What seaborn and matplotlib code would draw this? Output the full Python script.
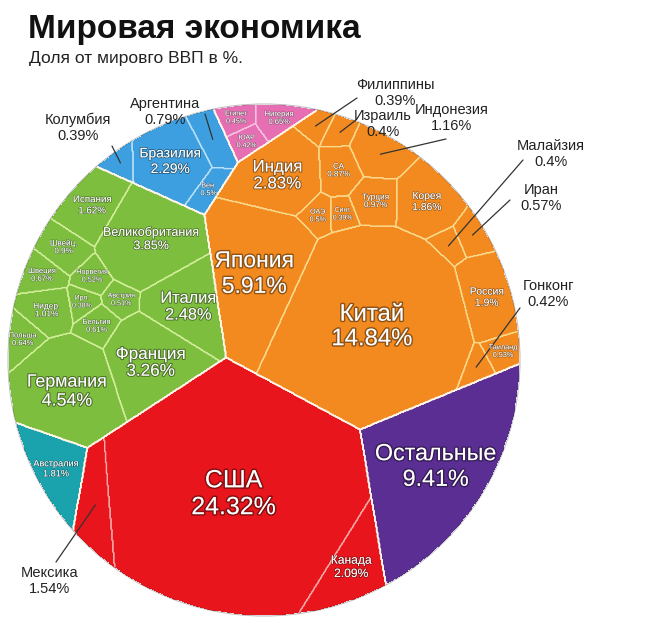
import numpy as np
import matplotlib
matplotlib.use("Agg")
import matplotlib.pyplot as plt
import matplotlib.patheffects as pe
from matplotlib.patches import Circle
import seaborn as sns

# share of world GDP, %
asia_names = ["Китай", "Япония", "Индия", "Россия", "Корея", "Индонезия", "Турция", "СА",
              "Иран", "Таиланд", "ОАЭ", "Гонконг", "Израиль", "Малайзия", "Синг.", "Филиппины"]
asia_values = [14.84, 5.91, 2.83, 1.9, 1.86, 1.16, 0.97, 0.87,
               0.57, 0.53, 0.5, 0.42, 0.4, 0.4, 0.39, 0.39]
europe_names = ["Германия", "Великобритания", "Франция", "Италия", "Испания", "Нидер.", "Швейц.",
                "Швеция", "Польша", "Бельгия", "Норвегия", "Австрия", "Ирл."]
europe_values = [4.54, 3.85, 3.26, 2.48, 1.62, 1.01, 0.9, 0.67, 0.64, 0.61, 0.52, 0.51, 0.38]
namerica_names = ["США", "Канада", "Мексика"]
namerica_values = [24.32, 2.09, 1.54]
samerica_names = ["Бразилия", "Аргентина", "Вен.", "Колумбия"]
samerica_values = [2.29, 0.79, 0.5, 0.39]
africa_names = ["Нигерия", "Египет", "ЮАР"]
africa_values = [0.65, 0.45, 0.42]
oceania_names = ["Австралия"]
oceania_values = [1.81]
other_names = ["Остальные"]
other_values = [9.41]

# layout: seed points of the voronoi cells (figure pixels)
asia_sites = [(370, 345), (255, 290), (275, 175), (476, 305), (430, 220), (395, 145), (378, 220),
              (343, 190), (468, 245), (490, 362), (317, 232), (462, 356), (330, 155), (440, 255),
              (347, 233), (320, 134)]
europe_sites = [(60, 385), (150, 235), (160, 365), (185, 282), (90, 205), (47, 303), (65, 243),
                (45, 272), (22, 332), (102, 322), (92, 278), (118, 294), (80, 300)]
namerica_sites = [(225, 495), (345, 555), (95, 510)]
samerica_sites = [(180, 160), (218, 122), (212, 198), (130, 150)]
africa_sites = [(292, 122), (250, 120), (265, 143)]
oceania_sites = [(40, 465)]
other_sites = [(440, 470)]

group_sites = [(345, 255), (105, 300), (230, 505), (180, 155), (272, 125), (40, 462), (445, 480)]
group_colors = ["#F28A1F", "#7DBE3F", "#E8161C", "#3D9FE0", "#E56FB2", "#1BA3AD", "#5B2E93"]
line_colors = ["#FBD98A", "#D3EE9A", "#F7A6A6", "#B9E0F8", "#F6C4E0", "#BFEFF2", "#C9B6E6"]

# labels placed outside the circle: text position, leader start
callouts = {
    "Колумбия": ((78, 128), (112, 146)),
    "Аргентина": ((165, 112), (205, 114)),
    "Филиппины": ((395, 93), (357, 98)),
    "Израиль": ((383, 124), (356, 120)),
    "Индонезия": ((452, 118), (446, 139)),
    "Малайзия": ((551, 154), (523, 160)),
    "Иран": ((541, 198), (510, 200)),
    "Гонконг": ((548, 294), (520, 308)),
    "Мексика": ((50, 581), (56, 562)),
}

groups = [
    (asia_names, asia_values, asia_sites),
    (europe_names, europe_values, europe_sites),
    (namerica_names, namerica_values, namerica_sites),
    (samerica_names, samerica_values, samerica_sites),
    (africa_names, africa_values, africa_sites),
    (oceania_names, oceania_values, oceania_sites),
    (other_names, other_values, other_sites),
]

sns.set_theme(style="white")
plt.rcParams["font.family"] = ["Liberation Sans", "DejaVu Sans"]

cx, cy, R = 264, 360, 256
N = 560
xs = np.linspace(cx - R, cx + R, N)
ys = np.linspace(cy - R, cy + R, N)
X, Y = np.meshgrid(xs, ys)
inside = (X - cx) ** 2 + (Y - cy) ** 2 <= R ** 2
cell_area = (xs[1] - xs[0]) ** 2


def fit_cells(px, py, sites, values, n_iter=260, relax_until=150, relax=0.3):
    # weighted voronoi (power diagram) with areas matched to the values
    s = np.array(sites, float)
    if len(s) == 1:
        return np.zeros(len(px), int)
    t = np.asarray(values, float) / np.sum(values) * len(px) * cell_area
    w = np.zeros(len(s))
    for it in range(n_iter):
        d = (px[:, None] - s[:, 0]) ** 2 + (py[:, None] - s[:, 1]) ** 2 - w
        lab = d.argmin(1)
        cnt = np.bincount(lab, minlength=len(s))
        w += 0.6 * 2 / np.pi * (t - cnt * cell_area)
        if it < relax_until:
            ok = cnt > 0
            mx = np.bincount(lab, px, len(s))[ok] / cnt[ok]
            my = np.bincount(lab, py, len(s))[ok] / cnt[ok]
            s[ok, 0] += relax * (mx - s[ok, 0])
            s[ok, 1] += relax * (my - s[ok, 1])
    return lab


px, py = X[inside], Y[inside]
group_lab = fit_cells(px, py, group_sites, [sum(g[1]) for g in groups], n_iter=300)

cell_id = np.full(X.shape, -1)
cells = []
gid_img = np.full(X.shape, -1)
flat_idx = np.flatnonzero(inside)
for g, (names, values, sites) in enumerate(groups):
    sel = group_lab == g
    lab = fit_cells(px[sel], py[sel], sites, values, n_iter=300, relax_until=20, relax=0.2)
    idx = flat_idx[sel]
    gid_img.flat[idx] = g
    for k, (name, val) in enumerate(zip(names, values)):
        m = lab == k
        cxk, cyk = px[sel][m].mean(), py[sel][m].mean()
        row = m & (np.abs(py[sel] - cyk) < 2)
        width = np.ptp(px[sel][row]) if row.any() else 20
        cell_id.flat[idx[m]] = len(cells)
        cells.append((g, name, val, cxk, cyk, width))

fig = plt.figure(figsize=(6.5, 6.28), dpi=100)
ax = fig.add_axes([0, 0, 1, 1])
ax.set_xlim(0, 650)
ax.set_ylim(628, 0)
ax.axis("off")

rgba = np.zeros(X.shape + (4,))
for g, col in enumerate(group_colors):
    rgba[gid_img == g] = matplotlib.colors.to_rgba(col)
disc = Circle((cx, cy), R, transform=ax.transData, fc="none", ec="none")
ax.add_patch(disc)
im = ax.imshow(rgba, extent=(cx - R, cx + R, cy - R, cy + R), origin="lower",
               interpolation="nearest", zorder=1)
im.set_clip_path(disc)

for k, c in enumerate(cells):
    mask = np.where(inside, (cell_id == k).astype(float), np.nan)
    ax.contour(xs, ys, mask, levels=[0.5], colors=[line_colors[c[0]]], linewidths=0.9, zorder=2)
for g in range(len(groups)):
    mask = np.where(inside, (gid_img == g).astype(float), np.nan)
    ax.contour(xs, ys, mask, levels=[0.5], colors=["#FFF6E8"], linewidths=1.1, zorder=3)
ax.add_patch(Circle((cx, cy), R, fc="none", ec=(0, 0, 0, 0.25), lw=0.8, zorder=4))

for g, name, val, mx, my, width in cells:
    label = f"{name}\n{val:g}%"
    if name in callouts:
        (tx, ty), (lx, ly) = callouts[name]
        ax.text(tx, ty, label, ha="center", va="center", fontsize=10.5, color="#222222",
                linespacing=1.15, zorder=6)
        ax.plot([lx, mx], [ly, my], color="#333333", lw=0.9, zorder=5)
        continue
    fs = np.interp(val, [0.38, 1.0, 1.9, 2.3, 2.5, 5.0, 5.9, 25],
                   [5, 6, 7.5, 10, 12, 13, 16.5, 18])
    nchar = max(len(name), len(f"{val:g}%"))
    fs = max(min(fs, 0.9 * width / (0.56 * nchar) * 0.72), 4.8)
    ax.text(mx, my, label, ha="center", va="center", fontsize=fs, color="white",
            linespacing=1.15, zorder=6,
            path_effects=[pe.withStroke(linewidth=max(fs / 8, 0.6), foreground=(0, 0, 0, 0.4))])

ax.text(28, 38, "Мировая экономика", fontsize=24, fontweight="bold", color="#111111",
        va="baseline", ha="left")
ax.text(29, 63, "Доля от мировго ВВП в %.", fontsize=12.5, color="#222222",
        va="baseline", ha="left")

fig.savefig("out.png", dpi=100, facecolor="white")
